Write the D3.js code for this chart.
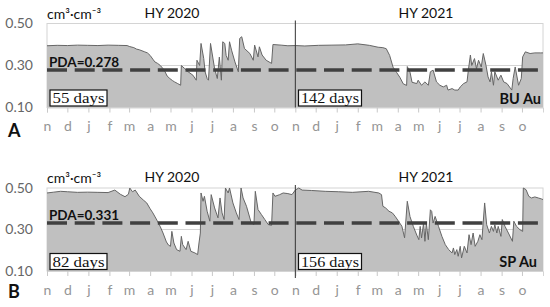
<!DOCTYPE html>
<html>
<head>
<meta charset="utf-8">
<script src="https://cdn.jsdelivr.net/npm/d3@7"></script>
<style>
  body { margin: 0; background: #fff; }
  svg { display: block; font-family: Lato, "Open Sans", sans-serif; }
</style>
</head>
<body>
<div id="chart"></div>
<script>
// month letters for the x axis (hydrological year starts in November)
const monthLetters = ["n", "d", "j", "f", "m", "a", "m", "j", "j", "a", "s", "o"];
const yTicks = [0.10, 0.30, 0.50];
const yearLabels = ["HY 2020", "HY 2021"];

// panel A, BU Au: day since 1 Nov 2019, soil water content
const dayA = [0, 15, 30, 45, 60, 75, 90, 105, 118, 122, 128, 132, 136, 140, 144, 148, 152, 156, 159, 163,
  167, 171, 174, 177, 181, 185, 188, 192, 197, 198, 203, 208, 215, 220, 221, 225, 227, 231, 233, 236,
  238, 241, 247, 251, 254, 257, 259, 262, 264, 267, 269, 272, 277, 282, 284, 287, 291, 299, 304, 306,
  311, 313, 317, 323, 331, 333, 345, 355, 366, 380, 400, 420, 440, 458, 475, 488, 495, 500, 505, 510,
  515, 520, 525, 530, 531, 535, 538, 545, 547, 552, 557, 562, 565, 569, 574, 579, 584, 589, 591, 597,
  601, 606, 609, 614, 619, 621, 624, 626, 630, 633, 636, 640, 643, 647, 650, 653, 655, 658, 660, 665,
  669, 673, 678, 685, 687, 690, 695, 699, 701, 705, 712, 719, 727, 731];
const vwcA = [0.394, 0.396, 0.395, 0.397, 0.396, 0.395, 0.397, 0.396, 0.395, 0.39, 0.385, 0.378, 0.375, 0.37, 0.365, 0.36, 0.348, 0.33, 0.317, 0.31,
  0.30, 0.285, 0.27, 0.25, 0.238, 0.228, 0.222, 0.215, 0.206, 0.30, 0.285, 0.27, 0.254, 0.23, 0.325, 0.30, 0.405, 0.333, 0.27, 0.238,
  0.23, 0.405, 0.285, 0.238, 0.34, 0.23, 0.413, 0.405, 0.348, 0.325, 0.413, 0.373, 0.317, 0.27, 0.429, 0.437, 0.381, 0.357, 0.325, 0.397,
  0.341, 0.389, 0.35, 0.325, 0.31, 0.40, 0.397, 0.394, 0.395, 0.393, 0.396, 0.397, 0.398, 0.403, 0.396, 0.387, 0.385, 0.38, 0.348, 0.292,
  0.268, 0.244, 0.213, 0.205, 0.295, 0.268, 0.22, 0.214, 0.23, 0.206, 0.222, 0.206, 0.27, 0.278, 0.222, 0.206, 0.198, 0.206, 0.183, 0.19,
  0.183, 0.183, 0.198, 0.214, 0.222, 0.278, 0.35, 0.30, 0.333, 0.285, 0.325, 0.293, 0.357, 0.30, 0.246, 0.222, 0.27, 0.206, 0.27, 0.23,
  0.254, 0.222, 0.214, 0.183, 0.238, 0.293, 0.206, 0.238, 0.341, 0.365, 0.357, 0.36, 0.36, 0.36];

// panel B, SP Au
const dayB = [0, 10, 20, 30, 45, 60, 75, 90, 100, 108, 115, 120, 122, 126, 130, 136, 142, 147, 152, 156,
  162, 167, 171, 176, 179, 182, 184, 187, 191, 196, 198, 200, 205, 208, 212, 218, 222, 224, 226, 227,
  230, 232, 236, 240, 242, 247, 252, 255, 258, 261, 263, 267, 269, 274, 279, 283, 286, 289, 294, 301,
  305, 307, 311, 316, 321, 326, 331, 333, 336, 343, 348, 355, 361, 366, 371, 376, 390, 410, 430, 450,
  474, 489, 493, 495, 499, 504, 509, 513, 518, 523, 527, 531, 535, 540, 545, 548, 550, 552, 555, 557,
  559, 562, 565, 567, 569, 572, 577, 582, 587, 592, 597, 599, 601, 604, 606, 609, 611, 615, 619, 622,
  625, 628, 631, 635, 638, 641, 645, 648, 652, 655, 658, 660, 663, 665, 669, 671, 675, 680, 686, 688,
  692, 697, 701, 702, 706, 710, 714, 719, 724, 729, 731];
const vwcB = [0.476, 0.48, 0.484, 0.482, 0.479, 0.48, 0.479, 0.478, 0.49, 0.47, 0.458, 0.47, 0.50, 0.482, 0.49, 0.46, 0.442, 0.428, 0.40, 0.38,
  0.345, 0.313, 0.283, 0.24, 0.225, 0.219, 0.291, 0.235, 0.203, 0.195, 0.267, 0.227, 0.203, 0.243, 0.195, 0.187, 0.179, 0.235, 0.283, 0.476,
  0.436, 0.46, 0.388, 0.34, 0.468, 0.404, 0.356, 0.452, 0.38, 0.348, 0.50, 0.476, 0.50, 0.428, 0.38, 0.348, 0.50, 0.452, 0.412, 0.332,
  0.324, 0.484, 0.396, 0.372, 0.348, 0.324, 0.32, 0.476, 0.46, 0.468, 0.476, 0.473, 0.468, 0.49, 0.50, 0.49, 0.488, 0.484, 0.482, 0.479,
  0.484, 0.476, 0.468, 0.412, 0.404, 0.388, 0.38, 0.364, 0.34, 0.316, 0.26, 0.436, 0.362, 0.314, 0.273, 0.251, 0.315, 0.259, 0.331, 0.243,
  0.331, 0.251, 0.395, 0.387, 0.331, 0.363, 0.315, 0.267, 0.227, 0.203, 0.187, 0.211, 0.179, 0.203, 0.171, 0.219, 0.163, 0.219, 0.187, 0.275,
  0.227, 0.283, 0.219, 0.243, 0.275, 0.251, 0.428, 0.323, 0.283, 0.315, 0.291, 0.323, 0.283, 0.315, 0.267, 0.348, 0.315, 0.283, 0.243, 0.34,
  0.315, 0.299, 0.291, 0.50, 0.492, 0.46, 0.452, 0.457, 0.452, 0.447, 0.444];

const width = 550, height = 307;
const start = new Date(2019, 10, 1), end = new Date(2021, 10, 1), hySplit = new Date(2020, 10, 1);

const svg = d3.select("#chart").append("svg")
  .attr("width", width)
  .attr("height", height);

const x = d3.scaleTime().domain([start, end]).range([47, 543]);
const monthStarts = d3.timeMonth.range(start, end);

function drawPanel(p) {
  const y = d3.scaleLinear().domain([0.10, 0.50]).range([p.bottom, p.top]);
  const g = svg.append("g");
  const pts = p.days.map((d, i) => ({ date: d3.timeDay.offset(start, d), v: p.vwc[i] }));

  // 0.30 gridline + frame
  g.append("line")
    .attr("x1", x.range()[0]).attr("x2", x.range()[1])
    .attr("y1", y(0.30)).attr("y2", y(0.30))
    .attr("stroke", "#d4d4d4");
  g.append("rect")
    .attr("x", 47).attr("y", p.top)
    .attr("width", 496).attr("height", p.bottom - p.top)
    .attr("fill", "none").attr("stroke", "#d4d4d4");

  const area = d3.area().x(d => x(d.date)).y0(p.bottom).y1(d => y(d.v));
  const line = d3.line().x(d => x(d.date)).y(d => y(d.v));
  g.append("path").datum(pts).attr("d", area).attr("fill", "#c0c0c0");
  g.append("path").datum(pts).attr("d", line)
    .attr("fill", "none").attr("stroke", "#666").attr("stroke-width", 1);

  // axes
  const xAxis = g.append("g")
    .attr("transform", `translate(0,${p.bottom})`)
    .call(d3.axisBottom(x).tickValues(monthStarts).tickSize(5).tickPadding(9)
      .tickFormat((d, i) => monthLetters[i % 12]));
  xAxis.select(".domain").attr("stroke", "#d4d4d4");
  xAxis.selectAll(".tick line").attr("stroke", "#c8c8c8");
  xAxis.selectAll("text").attr("fill", "#959595").style("font-size", "14px")
    .style("font-family", "Lato, sans-serif");

  const yAxis = g.append("g")
    .attr("transform", "translate(47,0)")
    .call(d3.axisLeft(y).tickValues(yTicks).tickSize(0).tickPadding(14).tickFormat(d3.format(".2f")));
  yAxis.select(".domain").remove();
  yAxis.selectAll("text").attr("fill", "#666").style("font-size", "14px")
    .style("font-family", "Lato, sans-serif");

  // PDA threshold
  g.append("line")
    .attr("x1", 47).attr("x2", 541)
    .attr("y1", y(p.pda)).attr("y2", y(p.pda))
    .attr("stroke", "#404040").attr("stroke-width", 3.5)
    .attr("stroke-dasharray", "20,7.7");
  g.append("text")
    .attr("x", 49).attr("y", y(p.pda) - 3.5)
    .attr("font-weight", "bold").attr("font-size", 13.5)
    .attr("fill", "#111")
    .text("PDA=" + d3.format(".3f")(p.pda));

  // year split
  g.append("line")
    .attr("x1", x(hySplit)).attr("x2", x(hySplit))
    .attr("y1", p.top - 3).attr("y2", p.bottom + p.splitExtra)
    .attr("stroke", "#333").attr("stroke-width", 1);

  // titles
  g.append("text").attr("x", 47).attr("y", p.top - 5).attr("font-size", 14).attr("fill", "#111")
    .text("cm³·cm⁻³");
  yearLabels.forEach((t, i) => {
    const c = i === 0 ? 172 : 426;
    g.append("text").attr("x", c).attr("y", p.top - 6).attr("text-anchor", "middle")
      .attr("font-size", 14).attr("fill", "#111").text(t);
  });

  // days-below-threshold boxes
  p.dayBoxes.forEach((b, i) => {
    const bx = i === 0 ? 50 : 298.5, bw = i === 0 ? 57 : 63;
    g.append("rect").attr("x", bx).attr("y", p.bottom - 17.5).attr("width", bw).attr("height", 16)
      .attr("fill", "#fff").attr("stroke", "#111").attr("stroke-width", 1.2);
    g.append("text").attr("x", bx + 2.5).attr("y", p.bottom - 4.5)
      .attr("font-family", "'Liberation Serif', 'DejaVu Serif', serif").attr("font-size", 15.5)
      .attr("fill", "#111")
      .attr("textLength", bw - 5).attr("lengthAdjust", "spacingAndGlyphs")
      .text(b + " days");
  });

  g.append("text").attr("x", p.siteX).attr("y", p.bottom - 4).attr("text-anchor", "end")
    .attr("font-weight", "bold").attr("font-size", 14.5).attr("fill", "#111").text(p.site);

  g.append("text").attr("x", 8).attr("y", p.letterY)
    .attr("font-weight", "bold").attr("font-size", 18).attr("fill", "#111").text(p.letter);
}

drawPanel({ top: 23.5, bottom: 107.5, days: dayA, vwc: vwcA, pda: 0.278, dayBoxes: [55, 142],
  site: "BU Au", siteX: 541, letter: "A", letterY: 137, splitExtra: 0 });
drawPanel({ top: 188, bottom: 271, days: dayB, vwc: vwcB, pda: 0.331, dayBoxes: [82, 156],
  site: "SP Au", siteX: 537, letter: "B", letterY: 298, splitExtra: 7 });
</script>
</body>
</html>
